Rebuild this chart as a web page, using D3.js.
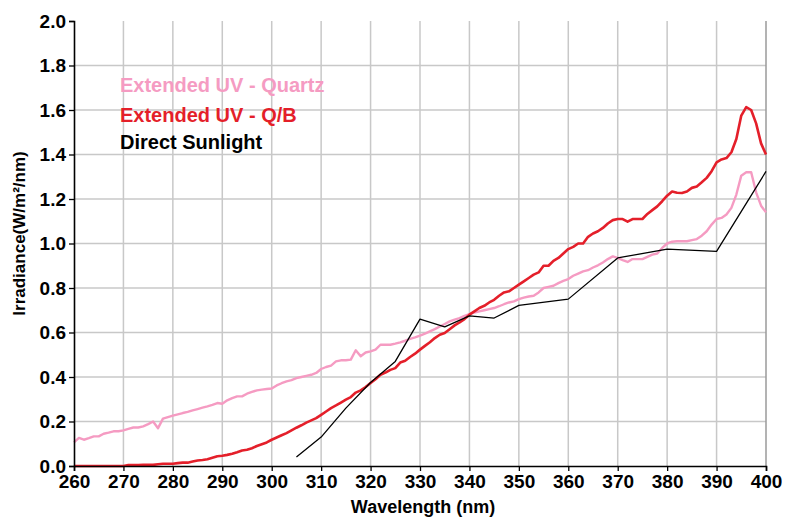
<!DOCTYPE html>
<html>
<head>
<meta charset="utf-8">
<script src="https://cdn.jsdelivr.net/npm/d3@7"></script>
<style>
  body { margin: 0; background: #fff; }
  text { font-family: "Liberation Sans", Arial, sans-serif; font-weight: bold; }
</style>
</head>
<body>
<div id="chart"></div>
<script>
// wavelength grid (nm) for the two lamp spectra
var wavelengths = [
  260,261,262,263,264,265,266,267,268,269,
  270,271,272,273,274,275,276,277,278,279,
  280,281,282,283,284,285,286,287,288,289,
  290,291,292,293,294,295,296,297,298,299,
  300,301,302,303,304,305,306,307,308,309,
  310,311,312,313,314,315,316,317,318,319,
  320,321,322,323,324,325,326,327,328,329,
  330,331,332,333,334,335,336,337,338,339,
  340,341,342,343,344,345,346,347,348,349,
  350,351,352,353,354,355,356,357,358,359,
  360,361,362,363,364,365,366,367,368,369,
  370,371,372,373,374,375,376,377,378,379,
  380,381,382,383,384,385,386,387,388,389,
  390,391,392,393,394,395,396,397,398,399,
  400
]

var quartz = [
  0.106,0.126,0.118,0.125,0.133,0.133,0.145,0.15,0.156,0.156,
  0.16,0.167,0.173,0.173,0.178,0.188,0.2,0.17,0.213,0.22,
  0.226,0.232,0.238,0.243,0.25,0.256,0.262,0.268,0.275,0.283,
  0.28,0.295,0.305,0.313,0.313,0.325,0.333,0.34,0.343,0.346,
  0.348,0.362,0.372,0.38,0.386,0.395,0.4,0.405,0.41,0.418,
  0.436,0.445,0.451,0.47,0.475,0.475,0.478,0.52,0.493,0.51,
  0.515,0.523,0.545,0.545,0.545,0.55,0.556,0.563,0.571,0.578,
  0.586,0.595,0.605,0.615,0.627,0.638,0.65,0.658,0.665,0.675,
  0.683,0.69,0.695,0.7,0.705,0.71,0.718,0.727,0.735,0.74,
  0.75,0.757,0.762,0.765,0.78,0.8,0.805,0.81,0.822,0.832,
  0.84,0.855,0.865,0.875,0.88,0.892,0.902,0.915,0.93,0.942,
  0.935,0.925,0.917,0.93,0.93,0.93,0.94,0.95,0.955,0.98,
  1.0,1.008,1.01,1.01,1.01,1.015,1.02,1.035,1.055,1.085,
  1.11,1.115,1.13,1.16,1.22,1.305,1.32,1.32,1.23,1.17,
  1.14
]

var qb = [
  0,0,0,0,0,0,0,0,0,0,
  0,0.004,0.004,0.004,0.005,0.005,0.005,0.008,0.01,0.01,
  0.01,0.013,0.015,0.015,0.02,0.025,0.027,0.03,0.037,0.044,
  0.046,0.05,0.055,0.062,0.07,0.073,0.08,0.09,0.098,0.106,
  0.118,0.128,0.138,0.148,0.16,0.172,0.183,0.195,0.205,0.215,
  0.23,0.245,0.26,0.272,0.285,0.298,0.31,0.33,0.34,0.355,
  0.373,0.39,0.41,0.42,0.432,0.44,0.465,0.473,0.49,0.505,
  0.523,0.54,0.556,0.575,0.59,0.598,0.615,0.632,0.645,0.66,
  0.68,0.695,0.71,0.72,0.735,0.747,0.765,0.78,0.785,0.8,
  0.815,0.83,0.845,0.86,0.87,0.9,0.9,0.922,0.935,0.955,
  0.975,0.985,1.0,1.0,1.03,1.045,1.055,1.07,1.09,1.105,
  1.11,1.11,1.098,1.11,1.11,1.11,1.133,1.15,1.167,1.19,
  1.215,1.234,1.228,1.227,1.234,1.25,1.256,1.275,1.295,1.325,
  1.365,1.378,1.384,1.41,1.47,1.575,1.613,1.6,1.54,1.45,
  1.4
]

// direct sunlight is only sampled coarsely
var sunWavelengths = [305,310,315,320,325,330,335,340,345,350,360,370,380,390,400]
var sunlight = [0.04,0.13,0.26,0.375,0.47,0.66,0.625,0.675,0.665,0.722,0.75,0.935,0.975,0.965,1.324]

var xTicks = [260,270,280,290,300,310,320,330,340,350,360,370,380,390,400]
var yTicks = [0,0.2,0.4,0.6,0.8,1.0,1.2,1.4,1.6,1.8,2.0]

var legendNames = ["Extended UV - Quartz", "Extended UV - Q/B", "Direct Sunlight"]
var colors = ["#f59bc2", "#e41f2a", "#000000"]

var W = 803, H = 517
var margin = {top: 21, right: 37, bottom: 51, left: 74}
var width = W - margin.left - margin.right
var height = H - margin.top - margin.bottom

var x = d3.scaleLinear().domain([260, 400]).range([0, width])
var y = d3.scaleLinear().domain([0, 2]).range([height, 0])

var svg = d3.select("#chart").append("svg")
  .attr("width", W)
  .attr("height", H)
  .append("g")
  .attr("transform", "translate(" + margin.left + "," + margin.top + ")")

// grid
svg.append("g").selectAll("line.v")
  .data(xTicks.slice(1, -1))
  .enter().append("line")
  .attr("x1", d => x(d)).attr("x2", d => x(d))
  .attr("y1", 0).attr("y2", height)
  .attr("stroke", "#c8c8c8").attr("stroke-width", 1.5)

svg.append("g").selectAll("line.h")
  .data(yTicks.slice(1, -1))
  .enter().append("line")
  .attr("x1", 0).attr("x2", width)
  .attr("y1", d => y(d)).attr("y2", d => y(d))
  .attr("stroke", "#c8c8c8").attr("stroke-width", 1.5)

// right frame edge
svg.append("line")
  .attr("x1", x(400)).attr("x2", x(400))
  .attr("y1", 0).attr("y2", height)
  .attr("stroke", "#9a9a9a").attr("stroke-width", 1.5)

var line = d3.line()
  .x(d => x(d[0]))
  .y(d => y(d[1]))

var series = [
  d3.zip(wavelengths, quartz),
  d3.zip(wavelengths, qb),
  d3.zip(sunWavelengths, sunlight)
]
var widths = [2.4, 2.6, 1.3]

svg.append("g").selectAll("path")
  .data(series)
  .enter().append("path")
  .attr("d", line)
  .attr("fill", "none")
  .attr("stroke", (d, i) => colors[i])
  .attr("stroke-width", (d, i) => widths[i])
  .attr("stroke-linejoin", "round")

// axes
var xAxis = d3.axisBottom(x).tickValues(xTicks).tickFormat(d3.format("d")).tickSize(5).tickPadding(4)
var yAxis = d3.axisLeft(y).tickValues(yTicks).tickFormat(d3.format(".1f")).tickSize(5).tickPadding(3)

var gx = svg.append("g")
  .attr("transform", "translate(0," + height + ")")
  .call(xAxis)
var gy = svg.append("g").call(yAxis)

;[gx, gy].forEach(function(g) {
  g.select(".domain").attr("stroke", "#000").attr("stroke-width", 1.6)
  g.selectAll(".tick line").attr("stroke", "#000").attr("stroke-width", 1.3)
  g.selectAll(".tick text")
    .attr("fill", "#000")
    .style("font-size", "19px")
    .style("font-family", "'Liberation Sans', Arial, sans-serif")
    .style("font-weight", "bold")
})

// axis titles
svg.append("text")
  .attr("x", width / 2 + 3)
  .attr("y", height + 47)
  .attr("text-anchor", "middle")
  .style("font-size", "18px")
  .text("Wavelength (nm)")

svg.append("text")
  .attr("transform", "translate(" + (-49) + "," + (height / 2 - 10) + ") rotate(-90)")
  .attr("text-anchor", "middle")
  .style("font-size", "17px")
  .text("Irradiance(W/m²/nm)")

// legend
var legendY = [92, 122, 149]
svg.append("g").selectAll("text")
  .data(legendNames)
  .enter().append("text")
  .attr("x", 120 - margin.left)
  .attr("y", (d, i) => legendY[i] - margin.top)
  .attr("fill", (d, i) => colors[i])
  .style("font-size", "20px")
  .text(d => d)
</script>
</body>
</html>
